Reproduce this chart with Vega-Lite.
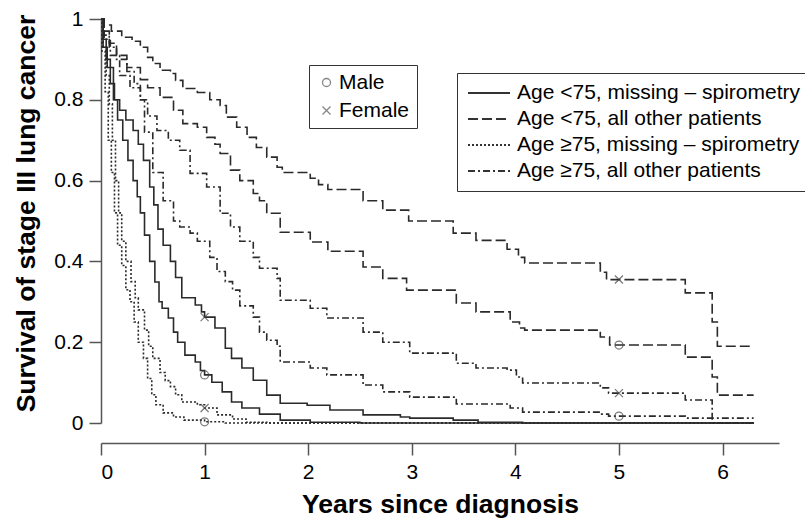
{
  "$schema": "https://vega.github.io/schema/vega-lite/v6.json",
  "width": 678,
  "height": 404,
  "autosize": {"type": "none"},
  "padding": {"left": 101, "top": 19, "right": 26, "bottom": 97},
  "background": "white",
  "config": {"view": {"stroke": null}, "font": "Liberation Sans"},
  "datasets": {
    "curves": [
      {"curve":"A","group":"Age <75, all other patients","t":0,"s":1},
      {"curve":"A","group":"Age <75, all other patients","t":0.03,"s":0.985},
      {"curve":"A","group":"Age <75, all other patients","t":0.1,"s":0.97},
      {"curve":"A","group":"Age <75, all other patients","t":0.2,"s":0.955},
      {"curve":"A","group":"Age <75, all other patients","t":0.3,"s":0.945},
      {"curve":"A","group":"Age <75, all other patients","t":0.38,"s":0.93},
      {"curve":"A","group":"Age <75, all other patients","t":0.45,"s":0.905},
      {"curve":"A","group":"Age <75, all other patients","t":0.5,"s":0.89},
      {"curve":"A","group":"Age <75, all other patients","t":0.57,"s":0.873},
      {"curve":"A","group":"Age <75, all other patients","t":0.67,"s":0.865},
      {"curve":"A","group":"Age <75, all other patients","t":0.72,"s":0.848},
      {"curve":"A","group":"Age <75, all other patients","t":0.79,"s":0.828},
      {"curve":"A","group":"Age <75, all other patients","t":0.93,"s":0.818},
      {"curve":"A","group":"Age <75, all other patients","t":1.05,"s":0.8},
      {"curve":"A","group":"Age <75, all other patients","t":1.15,"s":0.786},
      {"curve":"A","group":"Age <75, all other patients","t":1.21,"s":0.757},
      {"curve":"A","group":"Age <75, all other patients","t":1.31,"s":0.732},
      {"curve":"A","group":"Age <75, all other patients","t":1.41,"s":0.707},
      {"curve":"A","group":"Age <75, all other patients","t":1.5,"s":0.682},
      {"curve":"A","group":"Age <75, all other patients","t":1.6,"s":0.658},
      {"curve":"A","group":"Age <75, all other patients","t":1.7,"s":0.633},
      {"curve":"A","group":"Age <75, all other patients","t":1.75,"s":0.62},
      {"curve":"A","group":"Age <75, all other patients","t":2.02,"s":0.606},
      {"curve":"A","group":"Age <75, all other patients","t":2.1,"s":0.59},
      {"curve":"A","group":"Age <75, all other patients","t":2.19,"s":0.578},
      {"curve":"A","group":"Age <75, all other patients","t":2.53,"s":0.55},
      {"curve":"A","group":"Age <75, all other patients","t":2.72,"s":0.527},
      {"curve":"A","group":"Age <75, all other patients","t":2.97,"s":0.5},
      {"curve":"A","group":"Age <75, all other patients","t":3.4,"s":0.47},
      {"curve":"A","group":"Age <75, all other patients","t":3.62,"s":0.452},
      {"curve":"A","group":"Age <75, all other patients","t":3.92,"s":0.43},
      {"curve":"A","group":"Age <75, all other patients","t":4.03,"s":0.41},
      {"curve":"A","group":"Age <75, all other patients","t":4.09,"s":0.396},
      {"curve":"A","group":"Age <75, all other patients","t":4.82,"s":0.373},
      {"curve":"A","group":"Age <75, all other patients","t":4.88,"s":0.355},
      {"curve":"A","group":"Age <75, all other patients","t":5.64,"s":0.322},
      {"curve":"A","group":"Age <75, all other patients","t":5.9,"s":0.25},
      {"curve":"A","group":"Age <75, all other patients","t":5.95,"s":0.19},
      {"curve":"A","group":"Age <75, all other patients","t":6.3,"s":0.19},

      {"curve":"B","group":"Age <75, all other patients","t":0,"s":1},
      {"curve":"B","group":"Age <75, all other patients","t":0.03,"s":0.97},
      {"curve":"B","group":"Age <75, all other patients","t":0.08,"s":0.94},
      {"curve":"B","group":"Age <75, all other patients","t":0.15,"s":0.91},
      {"curve":"B","group":"Age <75, all other patients","t":0.25,"s":0.88},
      {"curve":"B","group":"Age <75, all other patients","t":0.38,"s":0.85},
      {"curve":"B","group":"Age <75, all other patients","t":0.45,"s":0.83},
      {"curve":"B","group":"Age <75, all other patients","t":0.57,"s":0.806},
      {"curve":"B","group":"Age <75, all other patients","t":0.7,"s":0.774},
      {"curve":"B","group":"Age <75, all other patients","t":0.79,"s":0.741},
      {"curve":"B","group":"Age <75, all other patients","t":0.93,"s":0.732},
      {"curve":"B","group":"Age <75, all other patients","t":1.02,"s":0.707},
      {"curve":"B","group":"Age <75, all other patients","t":1.1,"s":0.69},
      {"curve":"B","group":"Age <75, all other patients","t":1.15,"s":0.667},
      {"curve":"B","group":"Age <75, all other patients","t":1.25,"s":0.626},
      {"curve":"B","group":"Age <75, all other patients","t":1.34,"s":0.6},
      {"curve":"B","group":"Age <75, all other patients","t":1.47,"s":0.568},
      {"curve":"B","group":"Age <75, all other patients","t":1.53,"s":0.55},
      {"curve":"B","group":"Age <75, all other patients","t":1.6,"s":0.519},
      {"curve":"B","group":"Age <75, all other patients","t":1.73,"s":0.472},
      {"curve":"B","group":"Age <75, all other patients","t":2.02,"s":0.448},
      {"curve":"B","group":"Age <75, all other patients","t":2.19,"s":0.425},
      {"curve":"B","group":"Age <75, all other patients","t":2.53,"s":0.386},
      {"curve":"B","group":"Age <75, all other patients","t":2.72,"s":0.358},
      {"curve":"B","group":"Age <75, all other patients","t":2.95,"s":0.329},
      {"curve":"B","group":"Age <75, all other patients","t":3.43,"s":0.297},
      {"curve":"B","group":"Age <75, all other patients","t":3.62,"s":0.275},
      {"curve":"B","group":"Age <75, all other patients","t":3.95,"s":0.25},
      {"curve":"B","group":"Age <75, all other patients","t":4.04,"s":0.235},
      {"curve":"B","group":"Age <75, all other patients","t":4.09,"s":0.23},
      {"curve":"B","group":"Age <75, all other patients","t":4.82,"s":0.213},
      {"curve":"B","group":"Age <75, all other patients","t":4.91,"s":0.193},
      {"curve":"B","group":"Age <75, all other patients","t":5.64,"s":0.163},
      {"curve":"B","group":"Age <75, all other patients","t":5.9,"s":0.114},
      {"curve":"B","group":"Age <75, all other patients","t":5.95,"s":0.069},
      {"curve":"B","group":"Age <75, all other patients","t":6.3,"s":0.069},

      {"curve":"C","group":"Age ≥75, all other patients","t":0,"s":1},
      {"curve":"C","group":"Age ≥75, all other patients","t":0.03,"s":0.96},
      {"curve":"C","group":"Age ≥75, all other patients","t":0.08,"s":0.93},
      {"curve":"C","group":"Age ≥75, all other patients","t":0.15,"s":0.9},
      {"curve":"C","group":"Age ≥75, all other patients","t":0.25,"s":0.87},
      {"curve":"C","group":"Age ≥75, all other patients","t":0.32,"s":0.84},
      {"curve":"C","group":"Age ≥75, all other patients","t":0.38,"s":0.8},
      {"curve":"C","group":"Age ≥75, all other patients","t":0.45,"s":0.76},
      {"curve":"C","group":"Age ≥75, all other patients","t":0.54,"s":0.724},
      {"curve":"C","group":"Age ≥75, all other patients","t":0.65,"s":0.7},
      {"curve":"C","group":"Age ≥75, all other patients","t":0.76,"s":0.675},
      {"curve":"C","group":"Age ≥75, all other patients","t":0.86,"s":0.618},
      {"curve":"C","group":"Age ≥75, all other patients","t":1.02,"s":0.584},
      {"curve":"C","group":"Age ≥75, all other patients","t":1.15,"s":0.519},
      {"curve":"C","group":"Age ≥75, all other patients","t":1.25,"s":0.485},
      {"curve":"C","group":"Age ≥75, all other patients","t":1.34,"s":0.45},
      {"curve":"C","group":"Age ≥75, all other patients","t":1.47,"s":0.41},
      {"curve":"C","group":"Age ≥75, all other patients","t":1.53,"s":0.383},
      {"curve":"C","group":"Age ≥75, all other patients","t":1.7,"s":0.358},
      {"curve":"C","group":"Age ≥75, all other patients","t":1.73,"s":0.304},
      {"curve":"C","group":"Age ≥75, all other patients","t":2.02,"s":0.284},
      {"curve":"C","group":"Age ≥75, all other patients","t":2.18,"s":0.26},
      {"curve":"C","group":"Age ≥75, all other patients","t":2.53,"s":0.225},
      {"curve":"C","group":"Age ≥75, all other patients","t":2.72,"s":0.2},
      {"curve":"C","group":"Age ≥75, all other patients","t":2.98,"s":0.173},
      {"curve":"C","group":"Age ≥75, all other patients","t":3.43,"s":0.148},
      {"curve":"C","group":"Age ≥75, all other patients","t":3.62,"s":0.136},
      {"curve":"C","group":"Age ≥75, all other patients","t":3.92,"s":0.131},
      {"curve":"C","group":"Age ≥75, all other patients","t":4.01,"s":0.114},
      {"curve":"C","group":"Age ≥75, all other patients","t":4.07,"s":0.099},
      {"curve":"C","group":"Age ≥75, all other patients","t":4.82,"s":0.087},
      {"curve":"C","group":"Age ≥75, all other patients","t":4.9,"s":0.074},
      {"curve":"C","group":"Age ≥75, all other patients","t":5.64,"s":0.057},
      {"curve":"C","group":"Age ≥75, all other patients","t":5.9,"s":0.012},
      {"curve":"C","group":"Age ≥75, all other patients","t":6.3,"s":0.012},

      {"curve":"D","group":"Age ≥75, all other patients","t":0,"s":1},
      {"curve":"D","group":"Age ≥75, all other patients","t":0.03,"s":0.95},
      {"curve":"D","group":"Age ≥75, all other patients","t":0.09,"s":0.91},
      {"curve":"D","group":"Age ≥75, all other patients","t":0.18,"s":0.86},
      {"curve":"D","group":"Age ≥75, all other patients","t":0.28,"s":0.83},
      {"curve":"D","group":"Age ≥75, all other patients","t":0.38,"s":0.8},
      {"curve":"D","group":"Age ≥75, all other patients","t":0.42,"s":0.72},
      {"curve":"D","group":"Age ≥75, all other patients","t":0.5,"s":0.62},
      {"curve":"D","group":"Age ≥75, all other patients","t":0.6,"s":0.55},
      {"curve":"D","group":"Age ≥75, all other patients","t":0.7,"s":0.5},
      {"curve":"D","group":"Age ≥75, all other patients","t":0.76,"s":0.485},
      {"curve":"D","group":"Age ≥75, all other patients","t":0.86,"s":0.47},
      {"curve":"D","group":"Age ≥75, all other patients","t":0.93,"s":0.45},
      {"curve":"D","group":"Age ≥75, all other patients","t":1.05,"s":0.41},
      {"curve":"D","group":"Age ≥75, all other patients","t":1.12,"s":0.375},
      {"curve":"D","group":"Age ≥75, all other patients","t":1.2,"s":0.35},
      {"curve":"D","group":"Age ≥75, all other patients","t":1.27,"s":0.329},
      {"curve":"D","group":"Age ≥75, all other patients","t":1.34,"s":0.29},
      {"curve":"D","group":"Age ≥75, all other patients","t":1.47,"s":0.262},
      {"curve":"D","group":"Age ≥75, all other patients","t":1.53,"s":0.225},
      {"curve":"D","group":"Age ≥75, all other patients","t":1.6,"s":0.205},
      {"curve":"D","group":"Age ≥75, all other patients","t":1.7,"s":0.19},
      {"curve":"D","group":"Age ≥75, all other patients","t":1.73,"s":0.151},
      {"curve":"D","group":"Age ≥75, all other patients","t":2.02,"s":0.136},
      {"curve":"D","group":"Age ≥75, all other patients","t":2.18,"s":0.119},
      {"curve":"D","group":"Age ≥75, all other patients","t":2.53,"s":0.094},
      {"curve":"D","group":"Age ≥75, all other patients","t":2.72,"s":0.077},
      {"curve":"D","group":"Age ≥75, all other patients","t":2.98,"s":0.064},
      {"curve":"D","group":"Age ≥75, all other patients","t":3.43,"s":0.047},
      {"curve":"D","group":"Age ≥75, all other patients","t":3.95,"s":0.037},
      {"curve":"D","group":"Age ≥75, all other patients","t":4.07,"s":0.027},
      {"curve":"D","group":"Age ≥75, all other patients","t":4.82,"s":0.022},
      {"curve":"D","group":"Age ≥75, all other patients","t":4.9,"s":0.017},
      {"curve":"D","group":"Age ≥75, all other patients","t":5.64,"s":0.012},
      {"curve":"D","group":"Age ≥75, all other patients","t":5.9,"s":0},
      {"curve":"D","group":"Age ≥75, all other patients","t":6.3,"s":0},

      {"curve":"E","group":"Age <75, missing – spirometry","t":0,"s":1},
      {"curve":"E","group":"Age <75, missing – spirometry","t":0.02,"s":0.95},
      {"curve":"E","group":"Age <75, missing – spirometry","t":0.05,"s":0.9},
      {"curve":"E","group":"Age <75, missing – spirometry","t":0.09,"s":0.84},
      {"curve":"E","group":"Age <75, missing – spirometry","t":0.13,"s":0.8},
      {"curve":"E","group":"Age <75, missing – spirometry","t":0.18,"s":0.774},
      {"curve":"E","group":"Age <75, missing – spirometry","t":0.24,"s":0.75},
      {"curve":"E","group":"Age <75, missing – spirometry","t":0.31,"s":0.724},
      {"curve":"E","group":"Age <75, missing – spirometry","t":0.36,"s":0.69},
      {"curve":"E","group":"Age <75, missing – spirometry","t":0.41,"s":0.65},
      {"curve":"E","group":"Age <75, missing – spirometry","t":0.47,"s":0.584},
      {"curve":"E","group":"Age <75, missing – spirometry","t":0.51,"s":0.54},
      {"curve":"E","group":"Age <75, missing – spirometry","t":0.55,"s":0.48},
      {"curve":"E","group":"Age <75, missing – spirometry","t":0.6,"s":0.44},
      {"curve":"E","group":"Age <75, missing – spirometry","t":0.67,"s":0.4},
      {"curve":"E","group":"Age <75, missing – spirometry","t":0.72,"s":0.36},
      {"curve":"E","group":"Age <75, missing – spirometry","t":0.78,"s":0.31},
      {"curve":"E","group":"Age <75, missing – spirometry","t":0.91,"s":0.292},
      {"curve":"E","group":"Age <75, missing – spirometry","t":0.97,"s":0.275},
      {"curve":"E","group":"Age <75, missing – spirometry","t":1.0,"s":0.262},
      {"curve":"E","group":"Age <75, missing – spirometry","t":1.1,"s":0.235},
      {"curve":"E","group":"Age <75, missing – spirometry","t":1.2,"s":0.185},
      {"curve":"E","group":"Age <75, missing – spirometry","t":1.26,"s":0.16},
      {"curve":"E","group":"Age <75, missing – spirometry","t":1.36,"s":0.136},
      {"curve":"E","group":"Age <75, missing – spirometry","t":1.47,"s":0.106},
      {"curve":"E","group":"Age <75, missing – spirometry","t":1.6,"s":0.069},
      {"curve":"E","group":"Age <75, missing – spirometry","t":1.73,"s":0.049},
      {"curve":"E","group":"Age <75, missing – spirometry","t":1.99,"s":0.044},
      {"curve":"E","group":"Age <75, missing – spirometry","t":2.21,"s":0.032},
      {"curve":"E","group":"Age <75, missing – spirometry","t":2.53,"s":0.02},
      {"curve":"E","group":"Age <75, missing – spirometry","t":2.89,"s":0.015},
      {"curve":"E","group":"Age <75, missing – spirometry","t":2.98,"s":0.012},
      {"curve":"E","group":"Age <75, missing – spirometry","t":3.4,"s":0.007},
      {"curve":"E","group":"Age <75, missing – spirometry","t":3.64,"s":0.002},
      {"curve":"E","group":"Age <75, missing – spirometry","t":4.07,"s":0},
      {"curve":"E","group":"Age <75, missing – spirometry","t":6.3,"s":0},

      {"curve":"F","group":"Age <75, missing – spirometry","t":0,"s":1},
      {"curve":"F","group":"Age <75, missing – spirometry","t":0.02,"s":0.93},
      {"curve":"F","group":"Age <75, missing – spirometry","t":0.06,"s":0.88},
      {"curve":"F","group":"Age <75, missing – spirometry","t":0.12,"s":0.8},
      {"curve":"F","group":"Age <75, missing – spirometry","t":0.16,"s":0.75},
      {"curve":"F","group":"Age <75, missing – spirometry","t":0.21,"s":0.7},
      {"curve":"F","group":"Age <75, missing – spirometry","t":0.26,"s":0.65},
      {"curve":"F","group":"Age <75, missing – spirometry","t":0.31,"s":0.6},
      {"curve":"F","group":"Age <75, missing – spirometry","t":0.35,"s":0.56},
      {"curve":"F","group":"Age <75, missing – spirometry","t":0.38,"s":0.52},
      {"curve":"F","group":"Age <75, missing – spirometry","t":0.42,"s":0.465},
      {"curve":"F","group":"Age <75, missing – spirometry","t":0.47,"s":0.4},
      {"curve":"F","group":"Age <75, missing – spirometry","t":0.52,"s":0.349},
      {"curve":"F","group":"Age <75, missing – spirometry","t":0.56,"s":0.3},
      {"curve":"F","group":"Age <75, missing – spirometry","t":0.59,"s":0.284},
      {"curve":"F","group":"Age <75, missing – spirometry","t":0.65,"s":0.26},
      {"curve":"F","group":"Age <75, missing – spirometry","t":0.7,"s":0.225},
      {"curve":"F","group":"Age <75, missing – spirometry","t":0.74,"s":0.2},
      {"curve":"F","group":"Age <75, missing – spirometry","t":0.81,"s":0.168},
      {"curve":"F","group":"Age <75, missing – spirometry","t":0.91,"s":0.151},
      {"curve":"F","group":"Age <75, missing – spirometry","t":0.96,"s":0.13},
      {"curve":"F","group":"Age <75, missing – spirometry","t":1.0,"s":0.119},
      {"curve":"F","group":"Age <75, missing – spirometry","t":1.07,"s":0.101},
      {"curve":"F","group":"Age <75, missing – spirometry","t":1.17,"s":0.077},
      {"curve":"F","group":"Age <75, missing – spirometry","t":1.26,"s":0.052},
      {"curve":"F","group":"Age <75, missing – spirometry","t":1.36,"s":0.037},
      {"curve":"F","group":"Age <75, missing – spirometry","t":1.53,"s":0.022},
      {"curve":"F","group":"Age <75, missing – spirometry","t":1.73,"s":0.007},
      {"curve":"F","group":"Age <75, missing – spirometry","t":2.02,"s":0.002},
      {"curve":"F","group":"Age <75, missing – spirometry","t":2.5,"s":0},
      {"curve":"F","group":"Age <75, missing – spirometry","t":6.3,"s":0},

      {"curve":"G","group":"Age ≥75, missing – spirometry","t":0,"s":1},
      {"curve":"G","group":"Age ≥75, missing – spirometry","t":0.02,"s":0.93},
      {"curve":"G","group":"Age ≥75, missing – spirometry","t":0.05,"s":0.86},
      {"curve":"G","group":"Age ≥75, missing – spirometry","t":0.08,"s":0.79},
      {"curve":"G","group":"Age ≥75, missing – spirometry","t":0.11,"s":0.7},
      {"curve":"G","group":"Age ≥75, missing – spirometry","t":0.14,"s":0.6},
      {"curve":"G","group":"Age ≥75, missing – spirometry","t":0.17,"s":0.52},
      {"curve":"G","group":"Age ≥75, missing – spirometry","t":0.2,"s":0.45},
      {"curve":"G","group":"Age ≥75, missing – spirometry","t":0.24,"s":0.4},
      {"curve":"G","group":"Age ≥75, missing – spirometry","t":0.29,"s":0.35},
      {"curve":"G","group":"Age ≥75, missing – spirometry","t":0.33,"s":0.31},
      {"curve":"G","group":"Age ≥75, missing – spirometry","t":0.36,"s":0.28},
      {"curve":"G","group":"Age ≥75, missing – spirometry","t":0.42,"s":0.23},
      {"curve":"G","group":"Age ≥75, missing – spirometry","t":0.46,"s":0.19},
      {"curve":"G","group":"Age ≥75, missing – spirometry","t":0.5,"s":0.16},
      {"curve":"G","group":"Age ≥75, missing – spirometry","t":0.57,"s":0.125},
      {"curve":"G","group":"Age ≥75, missing – spirometry","t":0.62,"s":0.105},
      {"curve":"G","group":"Age ≥75, missing – spirometry","t":0.67,"s":0.09},
      {"curve":"G","group":"Age ≥75, missing – spirometry","t":0.72,"s":0.07},
      {"curve":"G","group":"Age ≥75, missing – spirometry","t":0.78,"s":0.052},
      {"curve":"G","group":"Age ≥75, missing – spirometry","t":0.93,"s":0.045},
      {"curve":"G","group":"Age ≥75, missing – spirometry","t":1.0,"s":0.037},
      {"curve":"G","group":"Age ≥75, missing – spirometry","t":1.12,"s":0.02},
      {"curve":"G","group":"Age ≥75, missing – spirometry","t":1.27,"s":0.01},
      {"curve":"G","group":"Age ≥75, missing – spirometry","t":1.4,"s":0.002},
      {"curve":"G","group":"Age ≥75, missing – spirometry","t":1.6,"s":0},
      {"curve":"G","group":"Age ≥75, missing – spirometry","t":6.3,"s":0},

      {"curve":"H","group":"Age ≥75, missing – spirometry","t":0,"s":1},
      {"curve":"H","group":"Age ≥75, missing – spirometry","t":0.01,"s":0.92},
      {"curve":"H","group":"Age ≥75, missing – spirometry","t":0.04,"s":0.82},
      {"curve":"H","group":"Age ≥75, missing – spirometry","t":0.07,"s":0.7},
      {"curve":"H","group":"Age ≥75, missing – spirometry","t":0.1,"s":0.62},
      {"curve":"H","group":"Age ≥75, missing – spirometry","t":0.13,"s":0.52},
      {"curve":"H","group":"Age ≥75, missing – spirometry","t":0.16,"s":0.44},
      {"curve":"H","group":"Age ≥75, missing – spirometry","t":0.2,"s":0.39},
      {"curve":"H","group":"Age ≥75, missing – spirometry","t":0.24,"s":0.33},
      {"curve":"H","group":"Age ≥75, missing – spirometry","t":0.28,"s":0.3},
      {"curve":"H","group":"Age ≥75, missing – spirometry","t":0.32,"s":0.25},
      {"curve":"H","group":"Age ≥75, missing – spirometry","t":0.36,"s":0.2},
      {"curve":"H","group":"Age ≥75, missing – spirometry","t":0.41,"s":0.16},
      {"curve":"H","group":"Age ≥75, missing – spirometry","t":0.45,"s":0.11},
      {"curve":"H","group":"Age ≥75, missing – spirometry","t":0.49,"s":0.07},
      {"curve":"H","group":"Age ≥75, missing – spirometry","t":0.53,"s":0.045},
      {"curve":"H","group":"Age ≥75, missing – spirometry","t":0.6,"s":0.025},
      {"curve":"H","group":"Age ≥75, missing – spirometry","t":0.7,"s":0.015},
      {"curve":"H","group":"Age ≥75, missing – spirometry","t":0.8,"s":0.007},
      {"curve":"H","group":"Age ≥75, missing – spirometry","t":1.0,"s":0.003},
      {"curve":"H","group":"Age ≥75, missing – spirometry","t":1.2,"s":0},
      {"curve":"H","group":"Age ≥75, missing – spirometry","t":6.3,"s":0}
    ],
    "markers": [
      {"sex":"Male","t":1,"s":0.119},
      {"sex":"Male","t":1,"s":0.003},
      {"sex":"Male","t":5,"s":0.193},
      {"sex":"Male","t":5,"s":0.017},
      {"sex":"Female","t":1,"s":0.262},
      {"sex":"Female","t":1,"s":0.037},
      {"sex":"Female","t":5,"s":0.355},
      {"sex":"Female","t":5,"s":0.074}
    ]
  },
  "layer": [
    {
      "data": {"name": "curves"},
      "mark": {"type": "line", "interpolate": "step-after", "strokeWidth": 1.6, "color": "#2a2a2a"},
      "encoding": {
        "x": {
          "field": "t", "type": "quantitative",
          "scale": {"domain": [0, 6.545], "nice": false, "zero": false},
          "axis": {
            "title": "Years since diagnosis", "values": [0,1,2,3,4,5,6], "format": "~g", "offset": 20,
            "grid": false, "tickSize": 12, "tickWidth": 1.5, "domainWidth": 1.5,
            "domainColor": "#555", "tickColor": "#555",
            "labelFontSize": 21, "labelColor": "#000", "labelPadding": 6,
            "titleFontSize": 26.5, "titleFontWeight": "bold", "titleColor": "#000", "titlePadding": 9
          }
        },
        "y": {
          "field": "s", "type": "quantitative",
          "scale": {"domain": [0, 1], "nice": false},
          "axis": {
            "title": "Survival of stage III lung cancer", "values": [0,0.2,0.4,0.6,0.8,1], "format": "~g",
            "grid": false, "tickSize": 12, "tickWidth": 1.5, "domainWidth": 1.5,
            "domainColor": "#555", "tickColor": "#555",
            "labelFontSize": 21, "labelColor": "#000", "labelPadding": 6,
            "titleFontSize": 26.5, "titleFontWeight": "bold", "titleColor": "#000", "titlePadding": 13,
            "titleY": 194
          }
        },
        "detail": {"field": "curve", "type": "nominal"},
        "strokeDash": {
          "field": "group", "type": "nominal",
          "scale": {
            "domain": ["Age <75, missing – spirometry", "Age <75, all other patients", "Age ≥75, missing – spirometry", "Age ≥75, all other patients"],
            "range": [[1, 0], [10, 4], [2, 2], [7, 3, 2, 3]]
          },
          "legend": {
            "title": null, "orient": "none", "legendX": 356, "legendY": 54,
            "symbolType": "stroke", "symbolSize": 1764, "symbolStrokeWidth": 2, "symbolStrokeColor": "#333",
            "clipHeight": 20, "rowPadding": 5, "padding": 10, "labelOffset": 6,
            "labelFontSize": 21, "labelColor": "#000", "labelLimit": 600,
            "strokeColor": "#333", "fillColor": "white"
          }
        }
      }
    },
    {
      "data": {"name": "markers"},
      "mark": {"type": "point", "filled": false, "size": 64, "strokeWidth": 1.3, "color": "#444"},
      "encoding": {
        "x": {"field": "t", "type": "quantitative"},
        "y": {"field": "s", "type": "quantitative"},
        "shape": {
          "field": "sex", "type": "nominal",
          "scale": {"domain": ["Male", "Female"], "range": ["circle", "M-1,-1L1,1M1,-1L-1,1"]},
          "legend": {
            "title": null, "orient": "none", "legendX": 208, "legendY": 46,
            "symbolSize": 64, "symbolStrokeWidth": 1.3, "symbolStrokeColor": "#555", "symbolFillColor": "transparent",
            "rowPadding": 6, "padding": 7, "labelOffset": 2,
            "labelFontSize": 21, "labelColor": "#000",
            "strokeColor": "#333", "fillColor": "white"
          }
        }
      }
    }
  ]
}
